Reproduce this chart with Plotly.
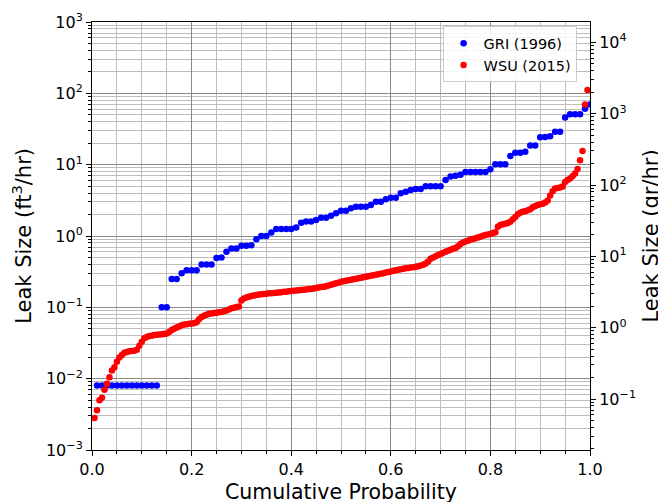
import numpy as np
import plotly.graph_objects as go

# ---------------- data ----------------
gri_label = "GRI (1996)"
wsu_label = "WSU (2015)"

# GRI (1996) sorted leak sizes, ft3/hr
gri_size = [
    0.008, 0.008, 0.008, 0.008, 0.008, 0.008, 0.008, 0.008, 0.008, 0.008,
    0.008, 0.008, 0.008, 0.10, 0.10, 0.25, 0.25, 0.30, 0.33, 0.33,
    0.33, 0.40, 0.40, 0.40, 0.49, 0.50, 0.60, 0.67, 0.67, 0.73,
    0.73, 0.74, 0.90, 1.00, 1.00, 1.12, 1.25, 1.25, 1.25, 1.25,
    1.32, 1.53, 1.60, 1.60, 1.67, 1.80, 1.80, 1.92, 2.08, 2.26,
    2.26, 2.44, 2.58, 2.58, 2.58, 2.72, 3.03, 3.03, 3.27, 3.44,
    3.44, 3.96, 4.18, 4.41, 4.56, 4.56, 5.0, 5.0, 5.0, 5.0,
    6.1, 6.8, 7.0, 7.2, 7.9, 7.9, 7.9, 7.9, 7.9, 8.6,
    10.1, 10.1, 10.1, 13.2, 14.7, 14.7, 15.2, 18.5, 18.5, 24.2,
    24.5, 25.0, 29.0, 29.0, 46.0, 51.0, 51.0, 51.0, 61.0, 70.0,
]

# WSU (2015) sorted leak sizes, ft3/hr
wsu_size = [
    0.0028, 0.0036, 0.0050, 0.0054, 0.0070, 0.0085, 0.0105, 0.0130, 0.0145, 0.0173,
    0.0198, 0.0215, 0.0230, 0.0237, 0.0242, 0.0245, 0.0247, 0.0255, 0.0290, 0.0330,
    0.0370, 0.0385, 0.0395, 0.0400, 0.0410, 0.0413, 0.0417, 0.0420, 0.0423, 0.0430,
    0.0450, 0.0480, 0.0500, 0.0520, 0.0540, 0.0560, 0.0575, 0.0580, 0.0590, 0.0595,
    0.0600, 0.0620, 0.0680, 0.0730, 0.0760, 0.0790, 0.0810, 0.0820, 0.0830, 0.0840,
    0.0850, 0.0860, 0.0880, 0.0900, 0.0930, 0.0970, 0.0990, 0.1010, 0.1030, 0.1250,
    0.1330, 0.1370, 0.1410, 0.1440, 0.1470, 0.1490, 0.1510, 0.1520, 0.1540, 0.1550,
    0.1570, 0.1580, 0.1590, 0.1600, 0.1610, 0.1630, 0.1650, 0.1660, 0.1680, 0.1690,
    0.1710, 0.1720, 0.1740, 0.1750, 0.1770, 0.1780, 0.1800, 0.1810, 0.1840, 0.1870,
    0.1900, 0.1930, 0.1950, 0.1980, 0.2030, 0.2080, 0.2120, 0.2170, 0.2220, 0.2280,
    0.232, 0.236, 0.240, 0.243, 0.247, 0.251, 0.255, 0.259, 0.264, 0.268,
    0.273, 0.277, 0.282, 0.287, 0.291, 0.296, 0.301, 0.307, 0.313, 0.319,
    0.325, 0.331, 0.337, 0.343, 0.347, 0.352, 0.356, 0.361, 0.365, 0.370,
    0.377, 0.385, 0.395, 0.41, 0.44, 0.48, 0.50, 0.52, 0.54, 0.56,
    0.58, 0.60, 0.62, 0.64, 0.66, 0.68, 0.72, 0.77, 0.81, 0.84,
    0.86, 0.89, 0.91, 0.93, 0.95, 0.98, 1.01, 1.03, 1.05, 1.07,
    1.10, 1.13, 1.35, 1.43, 1.46, 1.49, 1.52, 1.58, 1.72, 1.85,
    2.02, 2.12, 2.18, 2.23, 2.29, 2.38, 2.52, 2.64, 2.72, 2.78,
    2.84, 2.95, 3.15, 3.7, 4.25, 4.65, 4.72, 4.78, 4.95, 5.7,
    6.1, 6.4, 6.9, 7.5, 8.7, 11.5, 15.6, 70.0, 111.0,
]

# empirical cumulative probabilities (rank based)
gri_prob = np.arange(1, len(gri_size) + 1) / len(gri_size)
wsu_prob = np.arange(1, len(wsu_size) + 1) / (len(wsu_size) + 1)

# axis ticks
x_ticks = [0.0, 0.2, 0.4, 0.6, 0.8, 1.0]
x_ticklabels = ["0.0", "0.2", "0.4", "0.6", "0.8", "1.0"]
left_exps = [-3, -2, -1, 0, 1, 2, 3]
right_exps = [-1, 0, 1, 2, 3, 4]
FT3_TO_GR = 19.28  # gr/hr per ft3/hr (secondary axis scale)

# ---------------- figure ----------------
FONT = "DejaVu Sans"
BLUE = "#0000ff"
RED = "#ff0000"

def sup_label(e):
    s = str(e).replace("-", "\u2212")
    return "10<sup>%s</sup>" % s

left_vals = [10.0 ** e for e in left_exps]
left_minor = [m * 10.0 ** e for e in range(-3, 3) for m in range(2, 10)]
right_vals = [10.0 ** e for e in right_exps]
r_lo = np.log10(1e-3 * FT3_TO_GR)
r_hi = np.log10(1e3 * FT3_TO_GR)
right_minor = [m * 10.0 ** e for e in range(-2, 5) for m in range(2, 10)
               if r_lo <= np.log10(m * 10.0 ** e) <= r_hi]
x_minor = [round(0.05 * k, 2) for k in range(0, 21) if k % 4 != 0]

fig = go.Figure()
fig.add_trace(go.Scatter(
    x=gri_prob, y=gri_size, mode="markers", name=gri_label,
    marker=dict(color=BLUE, size=6.5, line=dict(width=0)),
    yaxis="y",
))
fig.add_trace(go.Scatter(
    x=wsu_prob, y=wsu_size, mode="markers", name=wsu_label,
    marker=dict(color=RED, size=6.5, line=dict(width=0)),
    yaxis="y",
))
# invisible trace to activate the right axis
fig.add_trace(go.Scatter(
    x=[0.5], y=[1.0], mode="markers", yaxis="y2", showlegend=False,
    marker=dict(opacity=0), hoverinfo="skip",
))

MAJOR_GRID = "#8a8a8a"
MINOR_GRID = "#bdbdbd"

fig.update_layout(
    width=658, height=494,
    margin=dict(l=84, r=76, t=14, b=52, autoexpand=False),
    paper_bgcolor="white", plot_bgcolor="white",
    font=dict(family=FONT, size=16, color="black"),
    showlegend=True,
    legend=dict(
        x=0.704, y=0.990, xanchor="left", yanchor="top",
        bgcolor="rgba(255,255,255,0.85)", bordercolor="#cccccc", borderwidth=1,
        font=dict(family=FONT, size=14.5, color="black"),
    ),
    xaxis=dict(
        range=[0, 1], tickvals=x_ticks, ticktext=x_ticklabels,
        showline=True, linecolor="black", linewidth=1, mirror=True,
        ticks="outside", ticklen=5, tickcolor="black",
        showgrid=True, gridcolor=MAJOR_GRID, gridwidth=1, zeroline=False,
        minor=dict(tickvals=x_minor, ticks="outside", ticklen=3, tickcolor="black",
                   showgrid=True, gridcolor=MINOR_GRID, gridwidth=1),
        tickfont=dict(size=16),
    ),
    yaxis=dict(
        type="log", range=[-3, 3], tickvals=left_vals,
        ticktext=[sup_label(e) for e in left_exps],
        showline=True, linecolor="black", linewidth=1, mirror=True,
        ticks="outside", ticklen=5, tickcolor="black",
        showgrid=True, gridcolor=MAJOR_GRID, gridwidth=1, zeroline=False,
        minor=dict(tickvals=left_minor, ticks="outside", ticklen=3, tickcolor="black",
                   showgrid=True, gridcolor=MINOR_GRID, gridwidth=1),
        tickfont=dict(size=16),
    ),
    yaxis2=dict(
        type="log", range=[r_lo, r_hi], overlaying="y", side="right",
        tickvals=right_vals, ticktext=[sup_label(e) for e in right_exps],
        showline=True, linecolor="black", linewidth=1,
        ticks="outside", ticklen=5, tickcolor="black",
        showgrid=False, zeroline=False,
        minor=dict(tickvals=right_minor, ticks="outside", ticklen=3, tickcolor="black",
                   showgrid=False),
        tickfont=dict(size=16),
    ),
    annotations=[
        dict(text="Cumulative Probability", xref="paper", yref="paper",
             x=0.5, y=-0.097, xanchor="center", yanchor="middle", showarrow=False,
             font=dict(family=FONT, size=20.5)),
        dict(text="Leak Size (ft<sup>3</sup>/hr)", xref="paper", yref="paper",
             x=-0.141, y=0.5, xanchor="center", yanchor="middle", showarrow=False,
             textangle=-90, font=dict(family=FONT, size=21)),
        dict(text="Leak Size (gr/hr)", xref="paper", yref="paper",
             x=1.1215, y=0.5, xanchor="center", yanchor="middle", showarrow=False,
             textangle=-90, font=dict(family=FONT, size=21)),
    ],
)

fig.write_html("out.html")
